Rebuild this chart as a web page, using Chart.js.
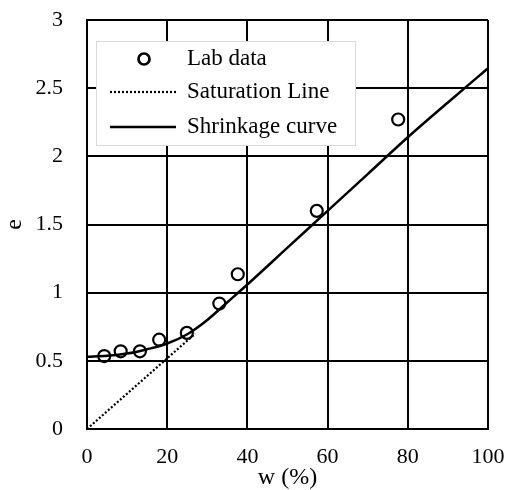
<!DOCTYPE html>
<html>
<head>
<meta charset="utf-8">
<script src="https://cdn.jsdelivr.net/npm/chart.js@4/dist/chart.umd.min.js"></script>
<style>
html, body { margin: 0; padding: 0; background: #fff; }
#wrap { width: 508px; height: 490px; }
</style>
</head>
<body>
<div id="wrap"><canvas id="grafico"></canvas></div>
<script>
// dados
const labW = [4.3, 8.4, 13.2, 18.0, 24.9, 33.0, 37.6, 57.3, 77.6];
const labE = [0.535, 0.57, 0.57, 0.655, 0.705, 0.92, 1.135, 1.60, 2.27];
const satW = [0, 27];
const satE = [0, 0.70];
const curvaW = [0, 5, 10, 15, 20, 25, 30, 35, 40, 50, 60, 70, 80, 90, 100];
const curvaE = [0.53, 0.537, 0.553, 0.585, 0.627, 0.695, 0.80, 0.93, 1.06, 1.33, 1.60, 1.87, 2.14, 2.395, 2.646];
const xTicks = [0, 20, 40, 60, 80, 100];
const yTicks = [0, 0.5, 1, 1.5, 2, 2.5, 3];

const fonte = 'Liberation Serif, Times New Roman, serif';
const pares = (xs, ys) => xs.map((x, i) => ({ x, y: ys[i] }));

// legenda desenhada dentro da área do gráfico
const legendaInterna = {
    id: 'legendaInterna',
    afterDraw(chart) {
        const { ctx, chartArea } = chart;
        const bx = chartArea.left + 9, by = chartArea.top + 21, bw = 259, bh = 104;
        ctx.save();
        ctx.fillStyle = '#fff';
        ctx.fillRect(bx, by, bw, bh);
        ctx.strokeStyle = '#d9d9d9';
        ctx.lineWidth = 1;
        ctx.strokeRect(bx + 0.5, by + 0.5, bw, bh);

        const linhas = [by + 18, by + 51, by + 86];
        chart.data.datasets.forEach((ds, i) => {
            const y = linhas[i];
            ctx.strokeStyle = '#000';
            if (ds.showLine) {
                ctx.lineWidth = ds.borderWidth;
                ctx.setLineDash(ds.borderDash || []);
                ctx.beginPath();
                ctx.moveTo(bx + 14, y);
                ctx.lineTo(bx + 80, y);
                ctx.stroke();
                ctx.setLineDash([]);
            } else {
                ctx.lineWidth = ds.borderWidth + 0.5;
                ctx.beginPath();
                ctx.arc(bx + 48, y, ds.pointRadius - 0.5, 0, Math.PI * 2);
                ctx.stroke();
            }
            ctx.fillStyle = '#000';
            ctx.font = '23px ' + fonte;
            ctx.textBaseline = 'middle';
            ctx.textAlign = 'left';
            ctx.fillText(ds.label, bx + 91, y);
        });
        ctx.restore();
    }
};

new Chart(document.getElementById('grafico').getContext('2d'), {
    type: 'scatter',
    data: {
        datasets: [
            { label: 'Lab data', data: pares(labW, labE), pointRadius: 6, pointHoverRadius: 6,
              borderWidth: 2.2, borderColor: '#000', backgroundColor: 'rgba(0,0,0,0)', showLine: false },
            { label: 'Saturation Line', data: pares(satW, satE), showLine: true, pointRadius: 0,
              borderWidth: 2.2, borderColor: '#000', borderDash: [2, 2] },
            { label: 'Shrinkage curve', data: pares(curvaW, curvaE), showLine: true, pointRadius: 0,
              borderWidth: 2.5, borderColor: '#000', cubicInterpolationMode: 'monotone' },
        ]
    },
    options: {
        responsive: true, maintainAspectRatio: false, animation: false, devicePixelRatio: 1,
        layout: { padding: { top: 20, right: 20, left: 0, bottom: 0 } },
        plugins: { legend: { display: false }, tooltip: { enabled: false } },
        scales: {
            x: {
                type: 'linear', min: 0, max: 100,
                afterBuildTicks: s => { s.ticks = xTicks.map(v => ({ value: v })); },
                afterFit: s => { s.height = 61; s.paddingLeft = 0; s.paddingRight = 0; },
                grid: { color: '#000', lineWidth: 2, drawTicks: false },
                border: { color: '#000', width: 2 },
                ticks: { color: '#000', padding: 15, font: { family: fonte, size: 22 }, callback: v => String(v) },
                title: { display: true, text: 'w (%)', color: '#000', padding: { top: 0, bottom: 0 },
                         font: { family: fonte, size: 24, lineHeight: 1 } }
            },
            y: {
                type: 'linear', min: 0, max: 3,
                afterBuildTicks: s => { s.ticks = yTicks.map(v => ({ value: v })); },
                afterFit: s => { s.width = 87; s.paddingTop = 0; s.paddingBottom = 0; },
                grid: { color: '#000', lineWidth: 2, drawTicks: false },
                border: { color: '#000', width: 2 },
                ticks: { color: '#000', padding: 24, font: { family: fonte, size: 22 }, callback: v => String(v) },
                title: { display: true, text: 'e', color: '#000', padding: { top: 3, bottom: 0 },
                         font: { family: fonte, size: 24, lineHeight: 1 } }
            }
        }
    },
    plugins: [legendaInterna]
});
</script>
</body>
</html>
